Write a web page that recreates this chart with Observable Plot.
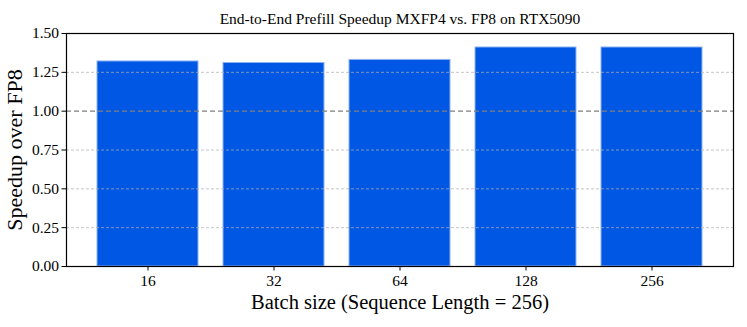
<!DOCTYPE html>
<html>
<head>
<meta charset="utf-8">
<script src="https://cdn.jsdelivr.net/npm/d3@7"></script>
<script src="https://cdn.jsdelivr.net/npm/@observablehq/plot@0.6"></script>
<style>
  html, body { margin: 0; padding: 0; background: #fff; }
  #chart svg { display: block; }
</style>
</head>
<body>
<div id="chart"></div>
<script>
const batchSizes = ["16", "32", "64", "128", "256"];
const speedups = [1.32, 1.31, 1.33, 1.41, 1.41];
const yTicks = [0, 0.25, 0.5, 0.75, 1.0, 1.25, 1.5];
const gridTicks = [0.25, 0.5, 0.75, 1.25, 1.5];
const baseline = [1.0];
const titleText = "End-to-End Prefill Speedup MXFP4 vs. FP8 on RTX5090";
const xLabel = "Batch size (Sequence Length = 256)";
const yLabel = "Speedup over FP8";

const data = batchSizes.map((b, i) => ({batch: b, speedup: speedups[i]}));
const font = "'Liberation Serif', 'DejaVu Serif', Times, serif";

const chart = Plot.plot({
  width: 747,
  height: 327,
  marginLeft: 66,
  marginRight: 14,
  marginTop: 33,
  marginBottom: 61,
  style: {fontFamily: font, fontSize: "15.5px", background: "#fff", color: "#000"},
  x: {type: "band", domain: batchSizes, paddingInner: 0.2, paddingOuter: 0.24, label: null},
  y: {domain: [0, 1.5], label: null},
  marks: [
    Plot.barY(data, {x: "batch", y: "speedup", fill: "#0057e3", stroke: "#8fb3f2", strokeWidth: 1}),
    Plot.ruleY(gridTicks, {stroke: "#b0b0b0", strokeWidth: 0.8, strokeDasharray: "3,2", strokeOpacity: 0.9}),
    Plot.ruleY(baseline, {stroke: "#808080", strokeWidth: 1.3, strokeDasharray: "5,3"}),
    Plot.frame({stroke: "#000", strokeWidth: 1.2}),
    Plot.axisY({ticks: yTicks, tickFormat: d => d.toFixed(2), tickSize: 4.5, tickPadding: 3, fontSize: 15.5, fontVariant: "normal", label: null}),
    Plot.axisX({tickSize: 4.5, tickPadding: 4, fontSize: 15.5, fontVariant: "normal", label: null}),
    Plot.text([titleText], {text: d => d, frameAnchor: "top", lineAnchor: "middle", dy: -14, fontSize: 15.5}),
    Plot.text([xLabel], {text: d => d, frameAnchor: "bottom", lineAnchor: "middle", dy: 36, fontSize: 20.5}),
    Plot.text([yLabel], {text: d => d, frameAnchor: "left", textAnchor: "middle", lineAnchor: "middle", dx: -52, rotate: -90, fontSize: 22})
  ]
});
document.getElementById("chart").appendChild(chart);
</script>
</body>
</html>
